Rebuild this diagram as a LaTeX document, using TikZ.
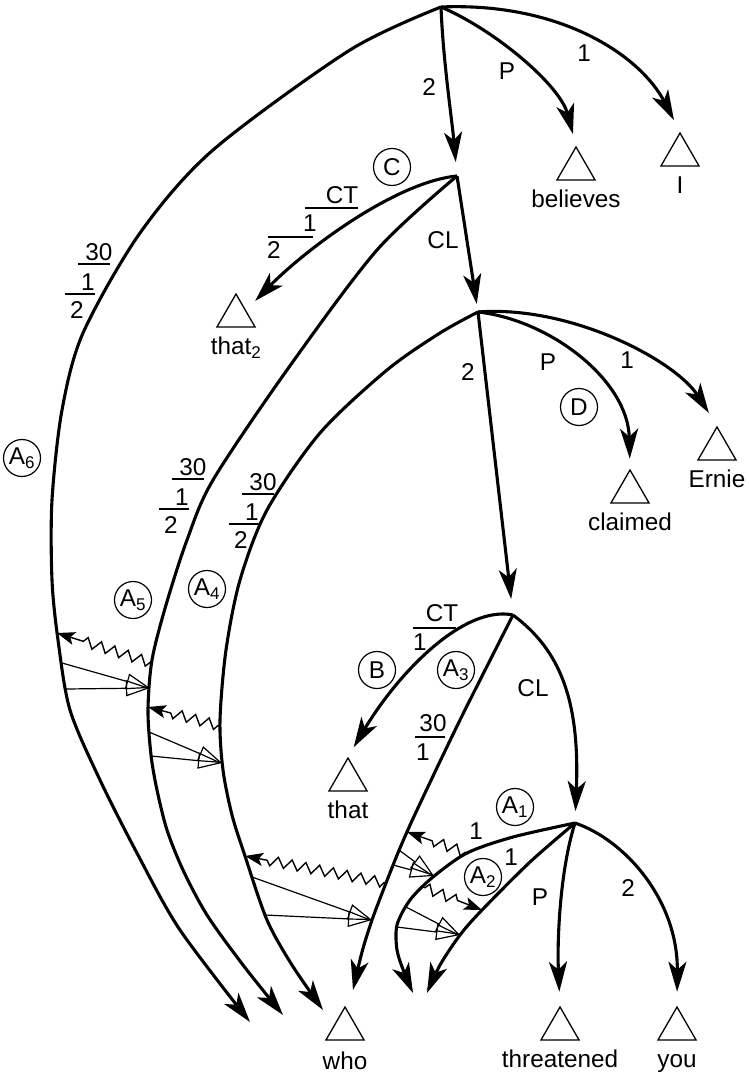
\documentclass[tikz,border=0pt]{standalone}
\usepackage{fontspec}
\setmainfont{Liberation Sans}
\usetikzlibrary{arrows.meta,positioning,shapes.geometric,decorations.pathmorphing}

\tikzset{
  relarc/.style={line width=3.1pt, -{Stealth[length=30pt,width=18pt,inset=8pt]}},
  term/.style={draw, line width=1.3pt, regular polygon, regular polygon sides=3, minimum size=44pt, inner sep=0pt},
  word/.style={inner sep=0pt, text height=17.5pt, text depth=5pt},
  tagc/.style={draw, line width=1.2pt, circle, minimum size=37pt, inner sep=0pt},
  lab/.style={inner sep=0pt},
  bar/.style={line width=1.3pt},
  zigarr/.style={line width=1.4pt, decorate, decoration={zigzag, segment length=14pt, amplitude=5pt, pre length=2pt, post length=22pt}, -{Stealth[length=18pt,width=13pt,inset=4pt]}},
  push/.style={line width=1.2pt, -{Triangle[open,length=24pt,width=16pt]}}
}

\begin{document}
\begin{tikzpicture}[x=1pt, y=-1pt, font=\fontsize{24.3}{29}\selectfont]
    \useasboundingbox (0,0) rectangle (748,1075);
    %\draw (0,0) rectangle (748,1075);

    \coordinate (r1) at (441,7);
    \coordinate (r2) at (457,176);
    \coordinate (r3) at (478,312);
    \coordinate (r4) at (513,615);
    \coordinate (r5) at (575,823);

    \node[term] (tBelieves) at (576,169) {};
    \node[term] (tI) at (680,155) {};
    \node[term] (tThat2) at (236,316) {};
    \node[term] (tClaimed) at (630,492) {};
    \node[term] (tErnie) at (717,449) {};
    \node[term] (tThat) at (348,780) {};
    \node[term] (tWho) at (345,1029) {};
    \node[term] (tThreatened) at (560,1029) {};
    \node[term] (tYou) at (677,1029) {};

    \node[word, below=9pt of tBelieves] (wBelieves) {believes};
    \node[word, below=9pt of tI] (wI) {I};
    \node[word, below=9pt of tThat2] (wThat2) {that\textsubscript{2}};
    \node[word, below=9pt of tClaimed] (wClaimed) {claimed};
    \node[word, below=9pt of tErnie] (wErnie) {Ernie};
    \node[word, below=9pt of tThat] (wThat) {that};
    \node[word, below=11pt of tWho] (wWho) {who};
    \node[word, below=9pt of tThreatened] (wThreatened) {threatened};
    \node[word, below=9pt of tYou] (wYou) {you};

    \coordinate (a6tip) at (250,1022);
    \coordinate (a5tip) at (283,1015);
    \coordinate (a4tip) at (323,1010);
    \coordinate (a3tip) at (353,990);
    \coordinate (a1tip) at (413,993);
    \coordinate (a2tip) at (427,993);

    \draw[relarc, shorten >=14pt] (r1) .. controls (443,60) and (452,120) .. (r2);
    \draw[relarc, shorten >=12pt] (r1) .. controls (495,30) and (560,85) .. (tBelieves.north);
    \draw[relarc, shorten >=13pt] (r1) .. controls (560,2) and (640,55) .. (tI.north);
    \draw[relarc] plot[smooth] coordinates {(r1) (350,50) (213,150) (140,233) (83,333) (62,410) (52,500) (52,580) (58,640) (70,710) (100,780) (138,855) (180,930) (a6tip)};

    \draw[relarc, shorten >=13pt] (r2) .. controls (395,182) and (305,250) .. (tThat2.side 3);
    \draw[relarc, shorten >=8pt] (r2) -- (r3);
    \draw[relarc] plot[smooth] coordinates {(r2) (377,250) (287,370) (213,480) (187,540) (166,605) (152,660) (148,710) (151,755) (157,790) (167,830) (183,870) (207,915) (243,965) (a5tip)};

    \draw[relarc, shorten >=16pt] (r3) -- (r4);
    \draw[relarc, shorten >=10pt] (r3) .. controls (550,320) and (628,380) .. (tClaimed.north);
    \draw[relarc, shorten >=15pt] (r3) .. controls (570,305) and (675,360) .. (tErnie.north);
    \draw[relarc] plot[smooth] coordinates {(r3) (440,333) (387,370) (320,433) (267,510) (240,580) (226,650) (220,720) (223,770) (232,815) (245,856) (267,920) (292,965) (a4tip)};

    \draw[relarc, shorten >=11pt] (r4) .. controls (465,605) and (400,670) .. (tThat.north);
    \draw[relarc, shorten >=12pt] (r4) .. controls (560,650) and (580,700) .. (r5);
    \draw[relarc] plot[smooth] coordinates {(r4) (460,720) (417,810) (400,848) (386,883) (372,920) (362,952) (a3tip)};

    \draw[relarc] plot[smooth] coordinates {(r5) (513,837) (467,853) (433,877) (410,900) (397,925) (397,950) (404,972) (a1tip)};
    \draw[relarc] plot[smooth] coordinates {(r5) (530,862) (482,910) (460,935) (440,965) (a2tip)};
    \draw[relarc, shorten >=14pt] (r5) .. controls (560,870) and (557,940) .. (tThreatened.north);
    \draw[relarc, shorten >=14pt] (r5) .. controls (625,840) and (678,900) .. (tYou.north);

    \coordinate (z6a) at (57,633);
    \coordinate (o6a) at (62,663);
    \coordinate (o6b) at (66,689);
    \coordinate (z5a) at (152,663);
    \coordinate (p5) at (150,688);
    \coordinate (z5b) at (148,707);
    \coordinate (o5a) at (149,732);
    \coordinate (o5b) at (151,756);
    \coordinate (z4a) at (220,726);
    \coordinate (p4) at (222,763);
    \coordinate (z4b) at (245,856);
    \coordinate (o4a) at (252,877);
    \coordinate (o4b) at (265,915);
    \coordinate (z3b) at (407,832);
    \coordinate (o3a) at (399,850);
    \coordinate (o3b) at (393,865);
    \coordinate (z3a) at (386,883);
    \coordinate (p3) at (372,920);
    \coordinate (z1a) at (467,853);
    \coordinate (p1) at (434,876);
    \coordinate (z1b) at (423,887);
    \coordinate (o1a) at (406,907);
    \coordinate (o1b) at (397,927);
    \coordinate (z2) at (482,910);
    \coordinate (p2) at (460,935);

    \draw[zigarr] (z5a) -- (z6a);
    \draw[push] (o6a) -- (p5);
    \draw[push] (o6b) -- (p5);
    \draw[zigarr] (z4a) -- (z5b);
    \draw[push] (o5a) -- (p4);
    \draw[push] (o5b) -- (p4);
    \draw[zigarr] (z3a) -- (z4b);
    \draw[push] (o4a) -- (p3);
    \draw[push] (o4b) -- (p3);
    \draw[zigarr] (z1a) -- (z3b);
    \draw[push] (o3a) -- (p1);
    \draw[push] (o3b) -- (p1);
    \draw[zigarr] (z1b) -- (z2);
    \draw[push] (o1a) -- (p2);
    \draw[push] (o1b) -- (p2);

    \node[lab] (l12) at (429,87) {2};
    \node[lab] (l1P) at (507,71) {P};
    \node[lab] (l11) at (584,53) {1};

    \node[lab] (l2CT) at (342,195) {CT};
    \draw[bar] (305,208) -- (358,208);
    \node[lab] (l2CT1) at (310,223) {1};
    \draw[bar] (268,237) -- (313,237);
    \node[lab] (l2CT2) at (274,250) {2};
    \node[lab] (l2CL) at (443,240) {CL};

    \node[lab] (l32) at (468,372) {2};
    \node[lab] (l3P) at (548,362) {P};
    \node[lab] (l31) at (627,360) {1};

    \node[lab] (l4CT) at (442,613) {CT};
    \draw[bar] (413,628) -- (456,628);
    \node[lab] (l4CT1) at (420,642) {1};
    \node[lab] (l4CL) at (533,688) {CL};
    \node[lab] (l430) at (433,723) {30};
    \draw[bar] (415,737) -- (445,737);
    \node[lab] (l4301) at (423,752) {1};

    \node[lab] (l51a) at (476,831) {1};
    \node[lab] (l51b) at (511,857) {1};
    \node[lab] (l5P) at (540,897) {P};
    \node[lab] (l52) at (628,888) {2};

    \foreach \n/\x/\y in {six/99/252, five/193/467, four/263/482}{
        \node[lab] (\n-30) at (\x,\y) {30};
        \draw[bar] (\x-21,\y+12) -- (\x+11,\y+12);
        \node[lab] (\n-1) at (\x-11,\y+30) {1};
        \draw[bar] (\x-34,\y+42) -- (\x-4,\y+42);
        \node[lab] (\n-2) at (\x-22,\y+58) {2};
    }

    \node[tagc] (cA6) at (22,458) {A\textsubscript{6}};
    \node[tagc] (cA5) at (133,600) {A\textsubscript{5}};
    \node[tagc] (cA4) at (207,589) {A\textsubscript{4}};
    \node[tagc] (cC) at (392,167) {C};
    \node[tagc] (cD) at (579,407) {D};
    \node[tagc] (cB) at (377,670) {B};
    \node[tagc] (cA3) at (456,670) {A\textsubscript{3}};
    \node[tagc] (cA1) at (515,807) {A\textsubscript{1}};
    \node[tagc] (cA2) at (483,877) {A\textsubscript{2}};
\end{tikzpicture}
\end{document}
